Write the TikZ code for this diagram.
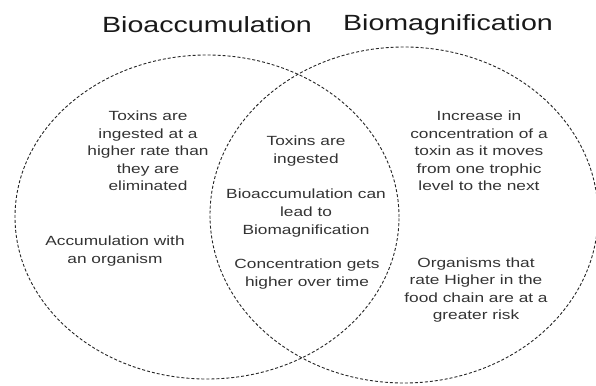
\documentclass[tikz,border=0pt]{standalone}
\usepackage{fontspec}
\setmainfont[FakeStretch=1.3]{Liberation Sans}
\tikzset{
  ring/.style={draw=black!85, line width=0.9pt, dash pattern=on 3pt off 2pt},
  title/.style={font=\fontsize{22}{26}\selectfont, anchor=base, text=black!90, inner sep=0pt},
  body/.style={font=\fontsize{13.3}{17.6}\selectfont, align=center, text=black!80, inner sep=0pt}
}
\begin{document}
\begin{tikzpicture}[x=1pt,y=-1pt]
\useasboundingbox (0,0) rectangle (596,385);
\fill[white] (0,0) rectangle (596,385);
% rings
\draw[ring] (207,217) ellipse [x radius=192pt, y radius=162pt];
\draw[ring] (404,215) ellipse [x radius=194pt, y radius=168pt];
% titles
\node[title] (tA) at (207,33) {Bioaccumulation};
\node[title] (tB) at (448,31) {Biomagnification};
% left region
\node[body] (l1) at (148,151) {Toxins are\\ingested at a\\higher rate than\\they are\\eliminated};
\node[body] (l2) at (115,251) {Accumulation with\\an organism};
% middle region
\node[body] (m1) at (306,151) {Toxins are\\ingested};
\node[body] (m2) at (306,213) {Bioaccumulation can\\lead to\\Biomagnification};
\node[body] (m3) at (307,274) {Concentration gets\\higher over time};
% right region
\node[body] (r1) at (479,151) {Increase in\\concentration of a\\toxin as it moves\\from one trophic\\level to the next};
\node[body] (r2) at (476,290) {Organisms that\\rate Higher in the\\food chain are at a\\greater risk};
\end{tikzpicture}
\end{document}
